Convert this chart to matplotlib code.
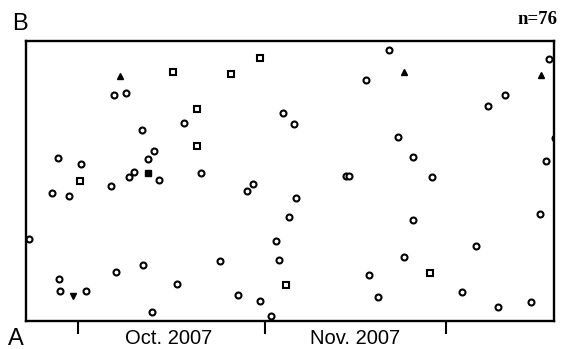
import numpy as np
import matplotlib
matplotlib.use('Agg')
import matplotlib.pyplot as plt
import matplotlib.dates as mdates
from matplotlib.ticker import FixedLocator, NullFormatter, FixedFormatter

# days since 1 Oct 2007, and value (0 = bottom, 100 = top)
circle_day = [-8.1, -4.3, -3.3, -3.2, -3.0, -1.5, 0.5, 1.3, 5.5, 6.0, 6.3, 8.0,
              8.5, 9.3, 10.6, 10.8, 11.6, 12.3, 12.6, 13.4, 16.4, 17.6, 20.4,
              23.6, 26.5, 28.0, 29.0, 30.2, 32.0, 32.8, 33.3, 34.0, 35.0, 35.8,
              36.2, 44.4, 44.9, 47.8, 48.3, 49.8, 51.6, 53.1, 54.1, 55.6, 55.6,
              58.7, 63.7, 66.0, 68.0, 69.7, 70.7, 75.1, 76.5, 77.5, 78.1, 79.0]
circle_val = [29.3, 45.7, 58.2, 15.0, 10.7, 44.6, 56.1, 10.7, 48.2, 80.7, 17.5, 81.4,
              51.4, 53.2, 68.2, 20.0, 57.9, 3.2, 60.7, 50.4, 13.2, 70.7, 52.9,
              21.4, 9.3, 46.4, 48.9, 7.1, 1.8, 28.6, 21.8, 74.3, 37.1, 70.4,
              43.9, 51.8, 51.8, 86.1, 16.4, 8.6, 96.8, 65.7, 22.9, 58.6, 36.1,
              51.4, 10.4, 26.8, 76.8, 5.0, 80.7, 6.8, 38.2, 57.1, 93.6, 65.4]

square_day = [0.3, 15.8, 19.7, 19.7, 25.4, 30.2, 34.5, 58.4]
square_val = [50.0, 88.9, 75.7, 62.5, 88.2, 93.9, 12.9, 17.1]

tri_up_day = [7.0, 54.1, 76.8]
tri_up_val = [87.5, 88.9, 87.9]

tri_down_day = [-0.8]
tri_down_val = [8.9]

filled_sq_day = [11.6]
filled_sq_val = [52.9]

month_labels = ['Oct. 2007', 'Nov. 2007']
n_label = 'n=76'

start = mdates.datestr2num('2007-10-01')


def dates(days):
    return start + np.asarray(days)


fig = plt.figure(figsize=(5.62, 3.49), dpi=100)
ax = fig.add_axes([26 / 562, 1 - 321 / 349, 528 / 562, 280 / 349])

mk = dict(color='black', linestyle='none', clip_on=True)
ax.plot(dates(circle_day), circle_val, marker='o', markersize=4.3,
        markerfacecolor='white', markeredgewidth=1.5, **mk)
ax.plot(dates(square_day), square_val, marker='s', markersize=3.8,
        markerfacecolor='white', markeredgewidth=1.5, **mk)
ax.plot(dates(tri_up_day), tri_up_val, marker='^', markersize=4.4, **mk)
ax.plot(dates(tri_down_day), tri_down_val, marker='v', markersize=4.4, **mk)
ax.plot(dates(filled_sq_day), filled_sq_val, marker='s', markersize=4.6, **mk)

ax.set_xlim(dates([-8.6, 78.9]))
ax.set_ylim(0, 100)
ax.set_yticks([])

# month boundaries as ticks, month names centred between them
ax.xaxis.set_major_locator(mdates.MonthLocator())
ax.xaxis.set_major_formatter(NullFormatter())
ax.xaxis.set_minor_locator(FixedLocator(dates([15, 46])))
ax.xaxis.set_minor_formatter(FixedFormatter(month_labels))
ax.tick_params(axis='x', which='major', direction='out', length=9, width=1.5)
ax.tick_params(axis='x', which='minor', length=0, pad=6,
               labelsize=14.5, labelfontfamily='Liberation Sans')

for sp in ax.spines.values():
    sp.set_linewidth(1.7)

fig.text(8 / 562, 1 - 345 / 349, 'A', fontsize=17, family='Liberation Sans',
         ha='left', va='baseline')
fig.text(12 / 562, 1 - 30 / 349, 'B', fontsize=17, family='Liberation Sans',
         ha='left', va='baseline')
fig.text(557 / 562, 1 - 24 / 349, n_label, fontsize=13.5, family='Liberation Serif',
         weight='bold', ha='right', va='baseline')

fig.savefig('out.png', dpi=100)
